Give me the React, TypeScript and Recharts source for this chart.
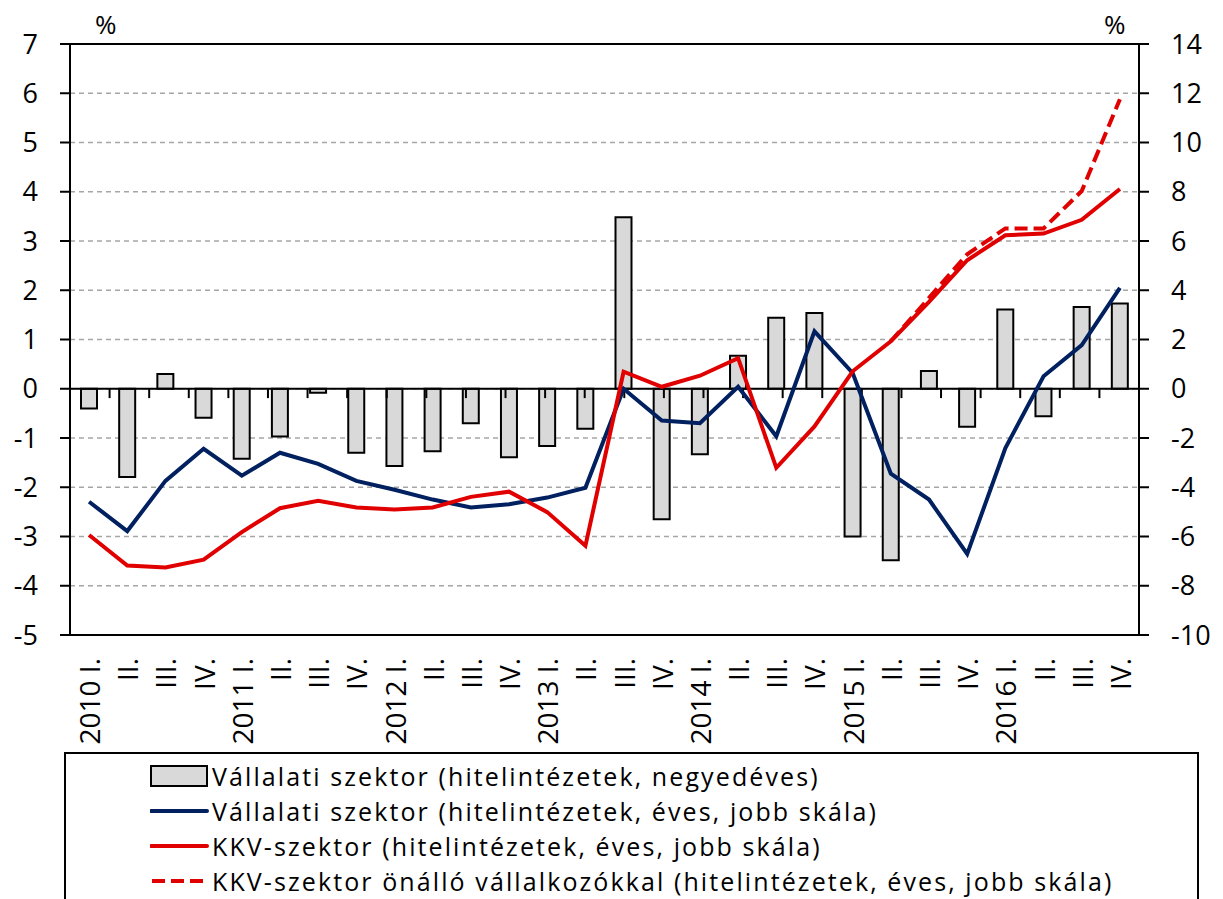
import React from 'react';
import { ComposedChart, Bar, Line, XAxis, YAxis, CartesianGrid, ReferenceLine } from 'recharts';

// quarter labels, 2010 I. – 2016 IV.
const quarters = [
  '2010 I.', 'II.', 'III.', 'IV.',
  '2011 I.', 'II.', 'III.', 'IV.',
  '2012 I.', 'II.', 'III.', 'IV.',
  '2013 I.', 'II.', 'III.', 'IV.',
  '2014 I.', 'II.', 'III.', 'IV.',
  '2015 I.', 'II.', 'III.', 'IV.',
  '2016 I.', 'II.', 'III.', 'IV.',
];

// Vállalati szektor, negyedéves (bal skála)
const corpQuarterly = [
  -0.4, -1.79, 0.3, -0.59,
  -1.42, -0.97, -0.08, -1.3,
  -1.57, -1.27, -0.7, -1.39,
  -1.16, -0.81, 3.48, -2.65,
  -1.33, 0.67, 1.44, 1.54,
  -3.0, -3.48, 0.36, -0.77,
  1.61, -0.56, 1.66, 1.73,
];

// Vállalati szektor, éves (jobb skála)
const corpAnnual = [
  -4.59, -5.78, -3.74, -2.44,
  -3.53, -2.6, -3.05, -3.74,
  -4.1, -4.5, -4.82, -4.69,
  -4.42, -4.02, 0.0, -1.29,
  -1.4, 0.08, -1.93, 2.33,
  0.64, -3.45, -4.5, -6.71,
  -2.41, 0.51, 1.77, 4.1,
];

// KKV-szektor, éves (jobb skála)
const smeAnnual = [
  -5.94, -7.18, -7.26, -6.94,
  -5.82, -4.85, -4.55, -4.82,
  -4.9, -4.82, -4.39, -4.18,
  -5.01, -6.38, 0.69, 0.08,
  0.53, 1.24, -3.21, -1.53,
  0.71, 1.93, 3.53, 5.22,
  6.23, 6.3, 6.86, 8.11,
];

// KKV-szektor önálló vállalkozókkal (jobb skála)
const smeWithSoleAnnual: (number | null)[] = [
  null, null, null, null,
  null, null, null, null,
  null, null, null, null,
  null, null, null, null,
  null, null, null, null,
  null, 1.93, 3.69, 5.46,
  6.51, 6.51, 8.03, 11.76,
];

const leftTicks = [-5, -4, -3, -2, -1, 0, 1, 2, 3, 4, 5, 6, 7];
const rightTicks = [-10, -8, -6, -4, -2, 0, 2, 4, 6, 8, 10, 12, 14];

const NAVY = '#002060';
const RED = '#e00000';
const FONT = '"Open Sans", "DejaVu Sans", sans-serif';

const chartData = quarters.map((q, i) => ({
  q,
  corpQ: corpQuarterly[i],
  corpA: corpAnnual[i],
  sme: smeAnnual[i],
  smeSole: smeWithSoleAnnual[i],
}));

// boundaries between quarters, on a hidden numeric axis 0..n
const boundaries = quarters.slice(1).map((_, i) => i + 1);

const QuarterTick = (props: any) => {
  const { x, payload } = props;
  return (
    <g transform={`translate(${x},658)`}>
      <text
        transform="rotate(-90)"
        textAnchor="end"
        dominantBaseline="central"
        fontSize={28}
        fontFamily={FONT}
        fill="#000"
      >
        {payload.value}
      </text>
    </g>
  );
};

const LegendRow = ({ kind, label }: { kind: 'bar' | 'navy' | 'red' | 'dash'; label: string }) => (
  <div style={{ display: 'flex', alignItems: 'center', height: 35 }}>
    <svg width={60} height={24} style={{ marginRight: 2, flex: 'none' }}>
      {kind === 'bar' && <rect x={1} y={2} width={56} height={20} fill="#d9d9d9" stroke="#000" strokeWidth={2} />}
      {kind === 'navy' && <line x1={1} y1={12} x2={57} y2={12} stroke={NAVY} strokeWidth={4} strokeLinecap="round" />}
      {kind === 'red' && <line x1={1} y1={12} x2={57} y2={12} stroke={RED} strokeWidth={4} strokeLinecap="round" />}
      {kind === 'dash' && <line x1={2} y1={12} x2={57} y2={12} stroke={RED} strokeWidth={4} strokeDasharray="13 6" />}
    </svg>
    <span style={{ whiteSpace: 'nowrap' }}>{label}</span>
  </div>
);

const App: React.FC = () => {
  return (
    <div style={{ position: 'absolute', left: 0, top: 0, width: 1223, height: 899, background: '#fff', fontFamily: FONT, overflow: 'hidden' }}>
      <div style={{ position: 'absolute', left: 95, top: 6, fontSize: 26 }}>%</div>
      <div style={{ position: 'absolute', left: 1104, top: 6, fontSize: 26 }}>%</div>

      <ComposedChart
        width={1223}
        height={752}
        data={chartData}
        margin={{ top: 44, right: 0, bottom: 0, left: 0 }}
        barSize={16}
      >
        <CartesianGrid yAxisId="left" vertical={false} stroke="#a6a6a6" strokeWidth={1.5} strokeDasharray="5 4" />
        <XAxis
          dataKey="q"
          interval={0}
          height={117}
          tick={<QuarterTick />}
          tickLine={false}
          axisLine={{ stroke: '#000', strokeWidth: 2 }}
        />
        <XAxis xAxisId="num" type="number" domain={[0, quarters.length]} hide />
        <YAxis
          yAxisId="left"
          width={70}
          domain={[-5, 7]}
          ticks={leftTicks}
          interval={0}
          tickSize={10}
          tickMargin={22}
          axisLine={{ stroke: '#000', strokeWidth: 2 }}
          tickLine={{ stroke: '#000', strokeWidth: 2 }}
          tick={{ fill: '#000', fontSize: 27, fontFamily: FONT }}
        />
        <YAxis
          yAxisId="right"
          orientation="right"
          width={84}
          domain={[-10, 14]}
          ticks={rightTicks}
          interval={0}
          tickSize={10}
          tickMargin={22}
          axisLine={{ stroke: '#000', strokeWidth: 2 }}
          tickLine={{ stroke: '#000', strokeWidth: 2 }}
          tick={{ fill: '#000', fontSize: 27, fontFamily: FONT, textAnchor: 'start' }}
        />
        <ReferenceLine yAxisId="left" y={7} stroke="#000" strokeWidth={2} />
        <Bar yAxisId="left" dataKey="corpQ" fill="#d9d9d9" stroke="#000" strokeWidth={2} isAnimationActive={false} />
        <ReferenceLine yAxisId="left" y={0} stroke="#000" strokeWidth={2} />
        {boundaries.map((b) => (
          <ReferenceLine
            key={b}
            xAxisId="num"
            yAxisId="left"
            segment={[{ x: b, y: 0 }, { x: b, y: -0.19 }]}
            stroke="#000"
            strokeWidth={2}
          />
        ))}
        <Line yAxisId="right" dataKey="corpA" stroke={NAVY} strokeWidth={4} dot={false} isAnimationActive={false} />
        <Line yAxisId="right" dataKey="sme" stroke={RED} strokeWidth={4} dot={false} isAnimationActive={false} />
        <Line yAxisId="right" dataKey="smeSole" stroke={RED} strokeWidth={4} strokeDasharray="13 6" dot={false} isAnimationActive={false} />
      </ComposedChart>

      <div
        style={{
          position: 'absolute',
          left: 64,
          top: 752,
          width: 1135,
          height: 170,
          border: '2px solid #000',
          boxSizing: 'border-box',
          paddingLeft: 84,
          paddingTop: 4,
          fontSize: 25,
          letterSpacing: '2.1px',
          lineHeight: '34px',
        }}
      >
        <LegendRow kind="bar" label="Vállalati szektor (hitelintézetek, negyedéves)" />
        <LegendRow kind="navy" label="Vállalati szektor (hitelintézetek, éves, jobb skála)" />
        <LegendRow kind="red" label="KKV-szektor (hitelintézetek, éves, jobb skála)" />
        <LegendRow kind="dash" label="KKV-szektor önálló vállalkozókkal (hitelintézetek, éves, jobb skála)" />
      </div>
    </div>
  );
};

export default App;
